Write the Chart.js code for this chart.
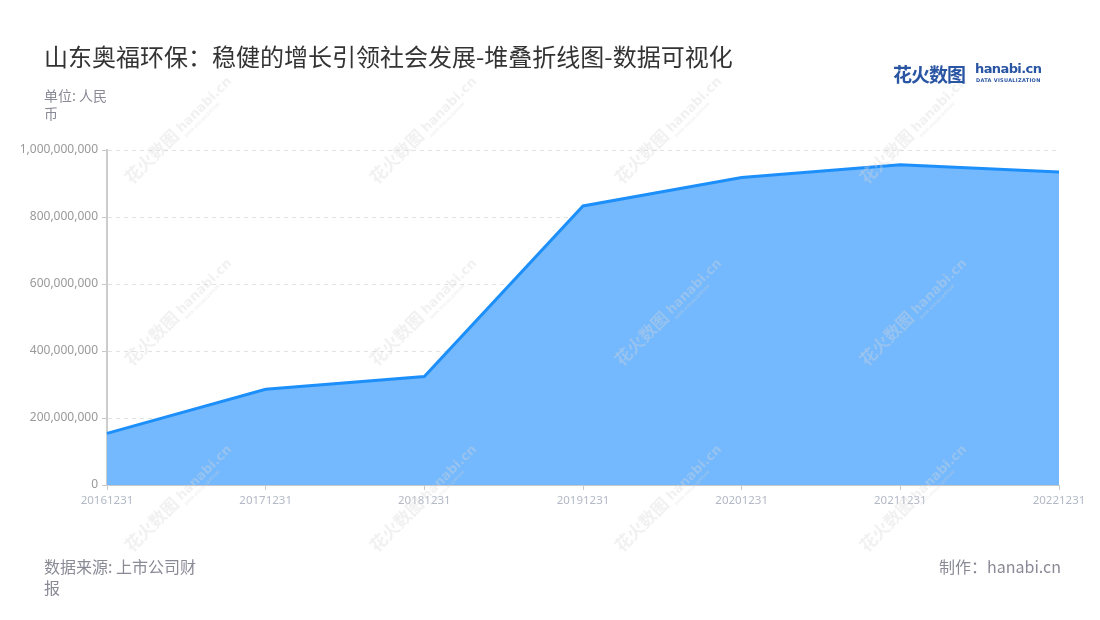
<!DOCTYPE html>
<html>
<head>
<meta charset="utf-8">
<script src="https://cdn.jsdelivr.net/npm/chart.js@4"></script>
<style>
  html, body { margin: 0; padding: 0; background: #fff; }
  body { font-family: "Noto Sans CJK SC", "Noto Sans", sans-serif; }
  .wrap { position: relative; width: 1100px; height: 620px; overflow: hidden; }
  .wrap canvas { position: absolute; left: 0; top: 0; }
  .title { position: absolute; left: 44px; top: 38px; font-size: 24px; color: #333; white-space: nowrap; }
  .unit { position: absolute; left: 44px; top: 86px; width: 72px; font-size: 14px; line-height: 18px; color: #8a8a96; }
  .source { position: absolute; left: 44px; top: 556px; width: 160px; font-size: 16px; line-height: 21px; color: #8a8a96; }
  .maker { position: absolute; right: 39px; top: 556px; font-size: 16px; line-height: 21px; color: #8a8a96; }
  .logo { position: absolute; left: 893px; top: 60px; height: 26px; color: #2a55a3; }
  .logo .cn { position: absolute; left: 0; top: 0; font-size: 19px; font-weight: 700; letter-spacing: -1px; white-space: nowrap; }
  .logo .en { position: absolute; left: 82px; top: 1px; font-family: "DejaVu Sans", sans-serif; font-size: 13px; font-weight: 700; white-space: nowrap; letter-spacing: -0.6px; }
  .logo .sub { position: absolute; left: 83px; top: 17px; font-family: "DejaVu Sans", sans-serif; font-size: 5px; font-weight: 700; white-space: nowrap; letter-spacing: 0.3px; }
</style>
</head>
<body>
<div class="wrap">
  <canvas id="chart" width="1100" height="620"></canvas>
  <div class="title">山东奥福环保：稳健的增长引领社会发展-堆叠折线图-数据可视化</div>
  <div class="unit">单位: 人民币</div>
  <div class="logo">
    <span class="cn">花火数图</span>
    <span class="en">hanabi.cn</span>
    <span class="sub">DATA VISUALIZATION</span>
  </div>
  <div class="source">数据来源: 上市公司财报</div>
  <div class="maker">制作：hanabi.cn</div>
</div>
<script>
const years = ['20161231', '20171231', '20181231', '20191231', '20201231', '20211231', '20221231'];
const revenue = [154000000, 286000000, 324000000, 833000000, 918000000, 956000000, 934000000];
const yTicks = [0, 200000000, 400000000, 600000000, 800000000, 1000000000];

// faint diagonal watermark tiles, drawn after the chart
const watermark = {
  id: 'watermark',
  afterDraw(chart) {
    const ctx = chart.ctx;
    ctx.save();
    ctx.fillStyle = 'rgba(215, 215, 215, 0.35)';
    const cols = [132, 377, 622, 867];
    const rows = [185, 367, 553];
    rows.forEach(y => {
      cols.forEach(x => {
        ctx.save();
        ctx.translate(x, y);
        ctx.rotate(-Math.PI / 4);
        ctx.font = 'bold 17px "Noto Sans CJK SC"';
        ctx.fillText('花火数图', 0, 0);
        ctx.font = 'bold 13px "DejaVu Sans"';
        ctx.fillText('hanabi.cn', 72, -2);
        ctx.font = 'bold 4px "DejaVu Sans"';
        ctx.fillText('DATA VISUALIZATION', 72, 5);
        ctx.restore();
      });
    });
    ctx.restore();
  }
};

new Chart(document.getElementById('chart'), {
  type: 'line',
  data: {
    labels: years,
    datasets: [{
      label: '营业收入',
      data: revenue,
      fill: 'origin',
      backgroundColor: '#74b8fd',
      borderColor: '#1d8ffa',
      borderWidth: 3,
      pointRadius: 0,
      tension: 0
    }]
  },
  options: {
    responsive: false,
    animation: false,
    devicePixelRatio: 1,
    layout: { padding: { top: 150, right: 41, bottom: 100, left: 0 } },
    plugins: {
      legend: { display: false },
      tooltip: { enabled: false }
    },
    scales: {
      x: {
        offset: false,
        afterFit(scale) { scale.height = 35; },
        grid: { drawOnChartArea: false, drawTicks: true, tickLength: 5, color: '#c8c8c8' },
        border: { display: true, color: '#c8c8c8', width: 1 },
        ticks: {
          color: '#b3b8c6', padding: 4, maxRotation: 0, autoSkip: false,
          font: { family: 'Noto Sans', size: 11.5 }
        }
      },
      y: {
        min: 0,
        max: 1000000000,
        afterFit(scale) { scale.width = 107; },
        afterBuildTicks(scale) { scale.ticks = yTicks.map(v => ({ value: v })); },
        grid: { color: '#e2e2e2', tickLength: 5, tickColor: '#c8c8c8', tickBorderDash: [] },
        border: { display: true, color: '#cccccc', width: 2, dash: [4, 4] },
        ticks: {
          color: '#999999', padding: 4,
          font: { family: 'Noto Sans', size: 12 },
          callback: v => Number(v).toLocaleString('en-US')
        }
      }
    }
  },
  plugins: [watermark]
});
</script>
</body>
</html>
